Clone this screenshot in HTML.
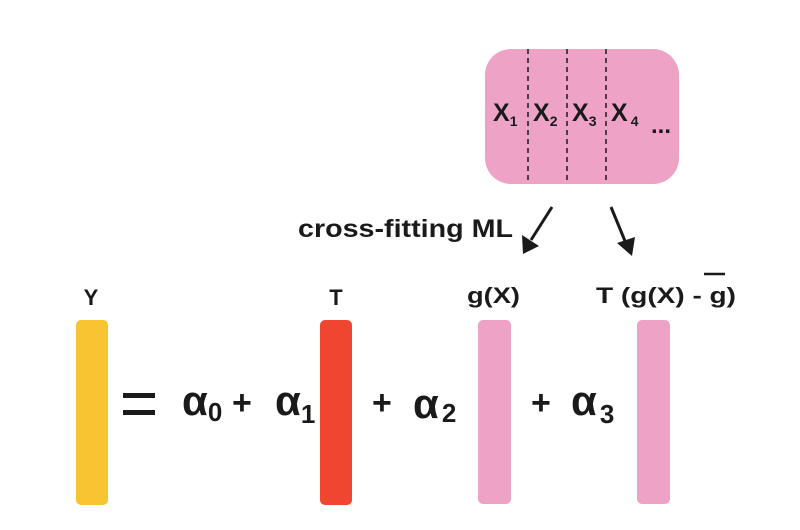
<!DOCTYPE html>
<html><head><style>html,body{margin:0;padding:0;background:#fff}</style></head>
<body>
<svg width="800" height="525" viewBox="0 0 800 525" xmlns="http://www.w3.org/2000/svg" font-family="Liberation Sans, sans-serif" font-weight="bold" fill="#1a1a1a">
<rect width="800" height="525" fill="#fff"/>
<rect x="485" y="49" width="194" height="135" rx="26" fill="#eea3c6"/>
<g stroke="#1a1a1a" stroke-width="1.5" stroke-dasharray="5,4">
<line x1="528" y1="49" x2="528" y2="184"/>
<line x1="567" y1="49" x2="567" y2="184"/>
<line x1="606" y1="49" x2="606" y2="184"/>
</g>
<g font-size="25">
<text x="493" y="121">X<tspan font-size="14" dy="5">1</tspan></text>
<text x="533" y="121">X<tspan font-size="14" dy="5">2</tspan></text>
<text x="572" y="121">X<tspan font-size="14" dy="5">3</tspan></text>
<text x="611" y="121">X<tspan font-size="14" dx="3" dy="5">4</tspan></text>
<text x="651" y="133" font-size="24">...</text>
</g>
<text x="298" y="237" font-size="25" textLength="215" lengthAdjust="spacingAndGlyphs">cross-fitting ML</text>
<line x1="552" y1="207" x2="531" y2="240" stroke="#1a1a1a" stroke-width="3"/>
<polygon points="523,254 522,235 539,246" fill="#1a1a1a"/>
<line x1="611" y1="207" x2="625" y2="241" stroke="#1a1a1a" stroke-width="3"/>
<polygon points="632,256 617,243 635,237" fill="#1a1a1a"/>
<text x="91" y="305" font-size="22" text-anchor="middle">Y</text>
<text x="336" y="305" font-size="22" text-anchor="middle">T</text>
<text x="467" y="303" font-size="22" textLength="53" lengthAdjust="spacingAndGlyphs">g(X)</text>
<text x="596" y="303" font-size="22" textLength="140" lengthAdjust="spacingAndGlyphs">T (g(X) - g)</text>
<line x1="704" y1="274" x2="725" y2="274" stroke="#1a1a1a" stroke-width="2.5"/>
<rect x="76" y="320" width="32" height="185" rx="5" fill="#f8c431"/>
<rect x="320" y="320" width="32" height="185" rx="5" fill="#f04530"/>
<rect x="478" y="320" width="33" height="184" rx="5" fill="#eea3c6"/>
<rect x="637" y="320" width="33" height="184" rx="5" fill="#eea3c6"/>
<rect x="123" y="393" width="32" height="5" fill="#1a1a1a"/>
<rect x="123" y="410" width="32" height="5" fill="#1a1a1a"/>
<g font-size="42">
<text x="182" y="415">α<tspan font-size="26" dy="6">0</tspan></text>
<text x="232" y="414" font-size="34">+</text>
<text x="275" y="415">α<tspan font-size="26" dy="8">1</tspan></text>
<text x="372" y="414" font-size="34">+</text>
<text x="413" y="418">α<tspan font-size="26" dx="3" dy="4">2</tspan></text>
<text x="531" y="414" font-size="34">+</text>
<text x="571" y="415">α<tspan font-size="26" dx="3" dy="8">3</tspan></text>
</g>
</svg>
</body></html>
